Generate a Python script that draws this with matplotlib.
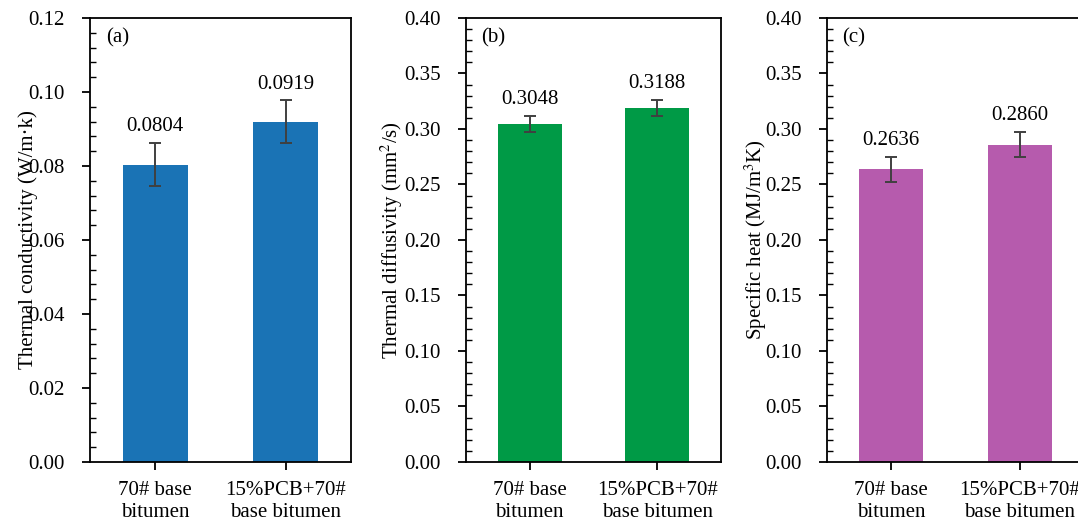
import matplotlib
matplotlib.use('Agg')
import matplotlib.pyplot as plt
from matplotlib.ticker import MultipleLocator, AutoMinorLocator

plt.rcParams['font.family'] = ['Liberation Serif', 'DejaVu Serif']
plt.rcParams['mathtext.fontset'] = 'stix'

CATEGORIES = ['70# base\nbitumen', '15%PCB+70#\nbase bitumen']

CONDUCTIVITY = [0.0804, 0.0919]
CONDUCTIVITY_ERR = [0.0057, 0.0058]

DIFFUSIVITY = [0.3048, 0.3188]
DIFFUSIVITY_ERR = [0.0071, 0.0072]

SPECIFIC_HEAT = [0.2636, 0.2860]
SPECIFIC_HEAT_ERR = [0.0112, 0.0110]

PANELS = [
    # (tag, values, errors, ylabel, ymax, major step, colour, axes rect, ylabel x)
    ('(a)', CONDUCTIVITY, CONDUCTIVITY_ERR, 'Thermal conductivity (W/m·k)',
     0.12, 0.02, '#1a73b5', [0.0835, 0.1316, 0.2421, 0.8346], -0.20),
    ('(b)', DIFFUSIVITY, DIFFUSIVITY_ERR, 'Thermal diffusivity (mm$^2$/s)',
     0.40, 0.05, '#009a46', [0.4323, 0.1316, 0.2365, 0.8346], -0.24),
    ('(c)', SPECIFIC_HEAT, SPECIFIC_HEAT_ERR, 'Specific heat (MJ/m$^3$K)',
     0.40, 0.05, '#b65bad', [0.7672, 0.1316, 0.2384, 0.8346], -0.225),
]


def draw_panel(fig, tag, values, errors, ylabel, ymax, step, colour, rect, label_x):
    ax = fig.add_axes(rect)
    x = range(len(values))
    ax.bar(x, values, width=0.5, color=colour, zorder=2)
    ax.errorbar(x, values, yerr=errors, fmt='none', ecolor='#404040',
                elinewidth=1.4, capsize=4.5, capthick=1.4, zorder=3)
    for xi, v, e in zip(x, values, errors):
        ax.annotate(f'{v:.4f}', (xi, v + e), xytext=(0, 5), textcoords='offset points',
                    ha='center', va='bottom', fontsize=15)

    ax.set_xlim(-0.5, 1.5)
    ax.set_ylim(0, ymax)
    ax.set_xticks(list(x))
    ax.set_xticklabels(CATEGORIES, fontsize=15, linespacing=1.15)
    ax.yaxis.set_major_locator(MultipleLocator(step))
    ax.yaxis.set_minor_locator(AutoMinorLocator(5))
    ax.yaxis.set_major_formatter(plt.FuncFormatter(lambda v, _: f'{v:.2f}'))

    ax.tick_params(axis='y', which='major', direction='out', length=6, width=1.3,
                   labelsize=15, pad=12)
    ax.tick_params(axis='y', which='minor', direction='in', length=4, width=1.0)
    ax.tick_params(axis='x', which='major', direction='out', length=6, width=1.3, pad=8)
    for spine in ax.spines.values():
        spine.set_linewidth(1.3)

    # the y label sits over the tick labels, as in the original layout
    ax.set_ylabel(ylabel, fontsize=15)
    ax.yaxis.set_label_coords(label_x, 0.5)
    ax.text(0.06, 0.955, tag, transform=ax.transAxes, fontsize=15,
            ha='left', va='center')
    return ax


def main():
    fig = plt.figure(figsize=(10.78, 5.32), dpi=100)
    for panel in PANELS:
        draw_panel(fig, *panel)
    fig.savefig('out.png', dpi=100)


if __name__ == '__main__':
    main()
